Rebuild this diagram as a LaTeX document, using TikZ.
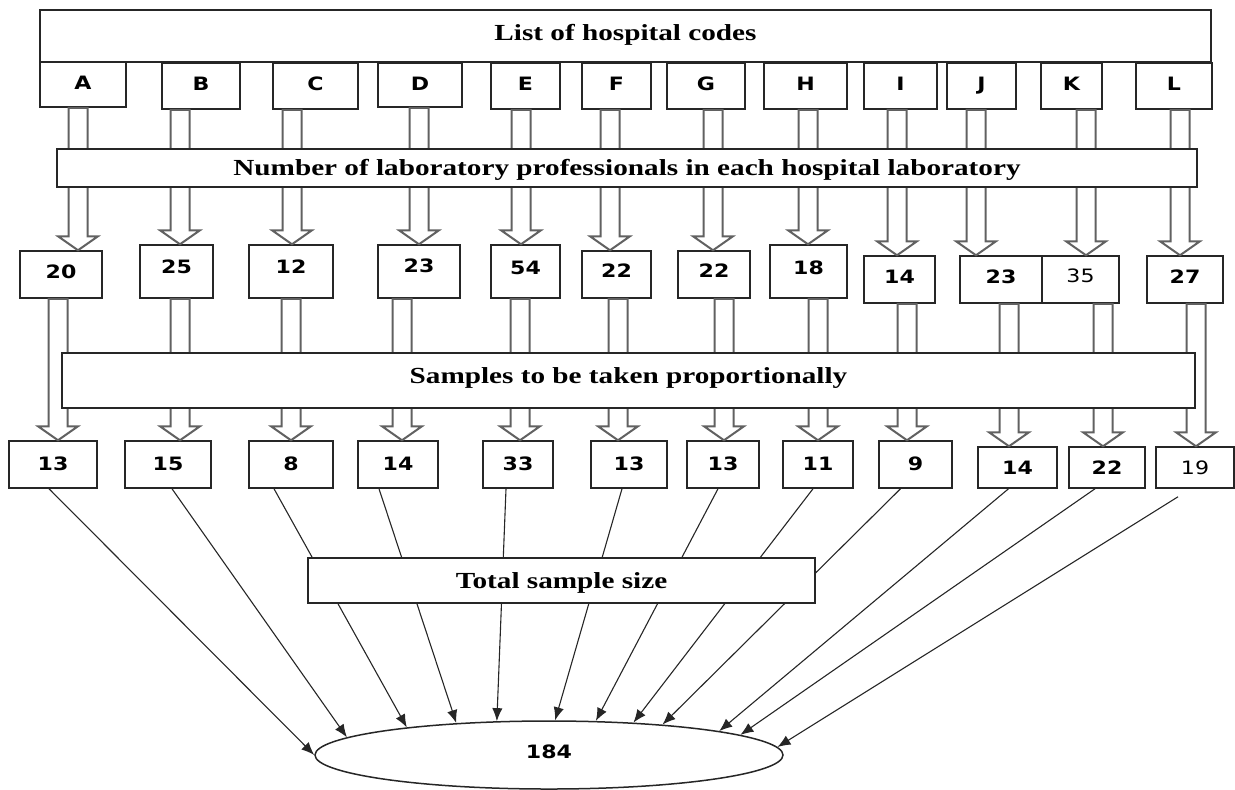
\documentclass[tikz,border=0pt]{standalone}
\usepackage{fontspec}
\setmainfont{Liberation Serif}[FakeStretch=1.27]
\newfontfamily\numfont{DejaVu Sans}[FakeStretch=1.2]
\usetikzlibrary{calc,arrows.meta,shapes.geometric}
\tikzset{
 box/.style={draw=black!85, line width=0.75pt, fill=white, inner sep=0pt},
 hd/.style={font=\bfseries\fontsize{11.5}{13}\selectfont, text height=7.6pt, text depth=0pt},
 nb/.style={font=\numfont\bfseries\fontsize{9.2}{10}\selectfont, text height=6.7pt, text depth=0pt},
 nr/.style={font=\numfont\fontsize{9.2}{10}\selectfont, text height=6.7pt, text depth=0pt},
 harrow/.style={draw=black!62, line width=1pt, fill=white, line join=miter},
 sumline/.style={draw=black!85, line width=0.55pt, -{Latex[length=6.5pt,width=5.2pt]}},
}
% #1 options, #2 name, #3 x1, #4 y1, #5 x2, #6 y2, #7 text
\newcommand\bx[7][]{\node[box,#1,minimum width={(#5-#3)*0.5pt},minimum height={(#6-#4)*0.5pt}] (#2) at ({(#3+#5)/2},{(#4+#6)/2}) {#7};}
% hollow arrow: #1 x, #2 from node, #3 to node
\newcommand\harr[3]{%
 \coordinate (hx) at (#1,0);
 \coordinate (hs) at (#2.south -| hx);
 \coordinate (he) at (#3.north -| hx);
 \draw[harrow] ($(hs)+(-9.5,0)$) -- ($(he)+(-9.5,-14)$) -- ($(he)+(-20,-14)$) -- (he) -- ($(he)+(20,-14)$) -- ($(he)+(9.5,-14)$) -- ($(hs)+(9.5,0)$) -- cycle;}
\begin{document}
\begin{tikzpicture}[x=0.5pt,y=-0.5pt]
\useasboundingbox (0,0) rectangle (1235,789);
% top
\bx[hd,text depth=3.5pt]{top}{40}{10}{1211}{62}{List of hospital codes}
% letters
\bx[nb,text depth=1.5pt]{A}{40}{62}{126}{107}{A}
\bx[nb,text depth=2pt]{B}{162}{63}{240}{109}{B}
\bx[nb,text depth=2pt]{C}{273}{63}{358}{109}{C}
\bx[nb,text depth=1.5pt]{D}{378}{63}{462}{107}{D}
\bx[nb,text depth=2pt]{E}{491}{63}{560}{109}{E}
\bx[nb,text depth=2pt]{F}{582}{63}{651}{109}{F}
\bx[nb,text depth=2pt]{G}{667}{63}{745}{109}{G}
\bx[nb,text depth=2pt]{H}{764}{63}{847}{109}{H}
\bx[nb,text depth=2pt]{I}{864}{63}{937}{109}{I}
\bx[nb,text depth=2pt]{J}{947}{63}{1016}{109}{J}
\bx[nb,text depth=2pt]{K}{1041}{63}{1102}{109}{K}
\bx[nb,text depth=2pt]{L}{1136}{63}{1212}{109}{L}
% row 1 numbers
\bx[nb,text depth=3pt]{n1}{20}{251}{102}{298}{20}
\bx[nb,text depth=4.5pt]{n2}{140}{245}{213}{298}{25}
\bx[nb,text depth=4.5pt]{n3}{249}{245}{333}{298}{12}
\bx[nb,text depth=6pt]{n4}{378}{245}{460}{298}{23}
\bx[nb,text depth=4pt]{n5}{491}{245}{560}{298}{54}
\bx[nb,text depth=3.5pt]{n6}{582}{251}{651}{298}{22}
\bx[nb,text depth=3.5pt]{n7}{678}{251}{750}{298}{22}
\bx[nb,text depth=4pt]{n8}{770}{245}{847}{298}{18}
\bx[nb,text depth=3pt]{n9}{864}{256}{935}{303}{14}
\bx[nb,text depth=2.5pt]{n10}{960}{256}{1042}{303}{23}
\bx[nr,text depth=3.5pt]{n11}{1042}{256}{1119}{303}{35}
\bx[nb,text depth=2.5pt]{n12}{1147}{256}{1223}{303}{27}
% row 2 samples
\bx[nb,text depth=1pt]{s1}{9}{441}{97}{488}{13}
\bx[nb,text depth=1pt]{s2}{125}{441}{211}{488}{15}
\bx[nb,text depth=1pt]{s3}{249}{441}{333}{488}{8}
\bx[nb,text depth=1pt]{s4}{358}{441}{438}{488}{14}
\bx[nb,text depth=1pt]{s5}{483}{441}{553}{488}{33}
\bx[nb,text depth=1pt]{s6}{591}{441}{667}{488}{13}
\bx[nb,text depth=1pt]{s7}{687}{441}{759}{488}{13}
\bx[nb,text depth=1pt]{s8}{783}{441}{853}{488}{11}
\bx[nb,text depth=1pt]{s9}{879}{441}{952}{488}{9}
\bx[nb]{s10}{978}{447}{1057}{488}{14}
\bx[nb]{s11}{1069}{447}{1145}{488}{22}
\bx[nr]{s12}{1156}{447}{1234}{488}{19}
% ellipse
\node[ellipse, draw=black!85, line width=0.75pt, fill=white, inner sep=0pt,
 minimum width=234pt, minimum height=34pt, nb, text depth=3pt] (ell) at (549,755) {184};
% hollow arrows row 1
\harr{78}{A}{n1}
\harr{180}{B}{n2}
\harr{292}{C}{n3}
\harr{419}{D}{n4}
\harr{521}{E}{n5}
\harr{610}{F}{n6}
\harr{713}{G}{n7}
\harr{808}{H}{n8}
\harr{897}{I}{n9}
\harr{976}{J}{n10}
\harr{1086}{K}{n11}
\harr{1180}{L}{n12}
% hollow arrows row 2
\harr{58}{n1}{s1}
\harr{180}{n2}{s2}
\harr{291}{n3}{s3}
\harr{402}{n4}{s4}
\harr{520}{n5}{s5}
\harr{618}{n6}{s6}
\harr{724}{n7}{s7}
\harr{818}{n8}{s8}
\harr{907}{n9}{s9}
\harr{1009}{n10}{s10}
\harr{1103}{n11}{s11}
\harr{1196}{n12}{s12}
% band boxes
\bx[hd]{num}{57}{149}{1197}{187}{Number of laboratory professionals in each hospital laboratory}
\bx[hd,text depth=5pt]{samp}{62}{353}{1195}{408}{Samples to be taken proportionally}
% lines to total
\draw[sumline] ($(s1.south)+(-4,0)$) -- (ell.180);
\draw[sumline] ($(s2.south)+(4,0)$) -- (ell.175);
\draw[sumline] ($(s3.south)+(-17,0)$) -- (ell.169);
\draw[sumline] ($(s4.south)+(-19,0)$) -- (ell.161);
\draw[sumline] ($(s5.south)+(-12,0)$) -- (ell.147);
\draw[sumline] ($(s6.south)+(-7,0)$) -- (ell.80);
\draw[sumline] ($(s7.south)+(-5,0)$) -- (ell.36);
\draw[sumline] ($(s8.south)+(-5,0)$) -- (ell.21);
\draw[sumline] ($(s9.south)+(-15,0)$) -- (ell.15);
\draw[sumline] ($(s10.south)+(-9,0)$) -- (ell.8);
\draw[sumline] ($(s11.south)+(-12,0)$) -- (ell.6);
\draw[sumline] ($(s12.south)+(-17,8)$) -- (ell.2);
% total box
\bx[hd]{tot}{308}{558}{815}{603}{Total sample size}
\end{tikzpicture}
\end{document}
